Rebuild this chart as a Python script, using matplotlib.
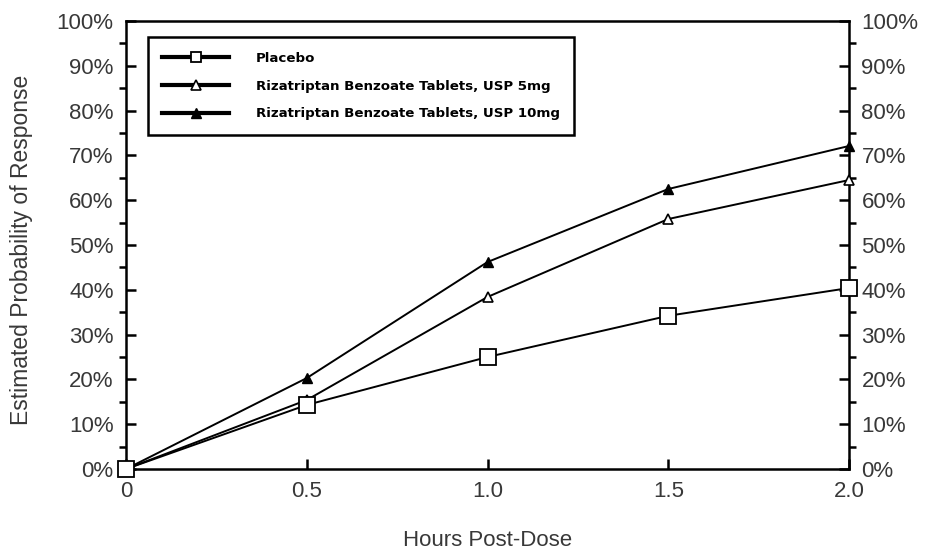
import matplotlib
matplotlib.use("Agg")
from matplotlib import pyplot as plt
from matplotlib.ticker import MultipleLocator, PercentFormatter

plt.rcParams['font.family'] = ['Liberation Sans', 'DejaVu Sans']

# hours post-dose
hours = [0, 0.5, 1.0, 1.5, 2.0]
hour_labels = ["0", "0.5", "1.0", "1.5", "2.0"]

# estimated probability of response (%)
placebo = [0, 14.3, 25.0, 34.2, 40.4]
dose_5mg = [0, 15.4, 38.4, 55.8, 64.5]
dose_10mg = [0, 20.3, 46.2, 62.5, 72.1]

labels = ["Placebo",
          "Rizatriptan Benzoate Tablets, USP 5mg",
          "Rizatriptan Benzoate Tablets, USP 10mg"]

fig = plt.figure(figsize=(9.3, 5.53), dpi=100)
ax = fig.add_axes([0.1355, 0.1519, 0.7774, 0.8101])

ax.plot(hours, dose_10mg, color="black", lw=1.4, marker="^", ms=7,
        mfc="black", mec="black", label=labels[2], zorder=3, clip_on=False)
ax.plot(hours, dose_5mg, color="black", lw=1.4, marker="^", ms=7,
        mfc="white", mec="black", mew=1.2, label=labels[1], zorder=4, clip_on=False)
ax.plot(hours, placebo, color="black", lw=1.4, marker="s", ms=11,
        mfc="white", mec="black", mew=1.3, label=labels[0], zorder=5, clip_on=False)

ax.set_xlim(0, 2.0)
ax.set_ylim(0, 100)
ax.set_xticks(hours)
ax.set_xticklabels(hour_labels)
ax.yaxis.set_major_locator(MultipleLocator(10))
ax.yaxis.set_minor_locator(MultipleLocator(5))
ax.yaxis.set_major_formatter(PercentFormatter(decimals=0))

for side in ax.spines.values():
    side.set_linewidth(1.8)
    side.set_color("black")

ax.tick_params(axis="both", direction="in", labelsize=16, labelcolor="#383838")
ax.tick_params(axis="y", which="major", length=7, width=1.8, right=True, labelright=True, pad=9)
ax.tick_params(axis="y", which="minor", length=5, width=1.8, right=True)
ax.tick_params(axis="x", which="major", length=7, width=1.8, pad=9)

ax.set_xlabel("Hours Post-Dose", fontsize=16, color="#383838", labelpad=20)
ax.set_ylabel("Estimated Probability of Response", fontsize=16.5, color="#383838")
ax.yaxis.set_label_coords(-0.128, 0.49)

handles, lbls = ax.get_legend_handles_labels()
order = [2, 1, 0]
leg = ax.legend([handles[i] for i in order], [lbls[i] for i in order],
                loc="upper left", bbox_to_anchor=(0.030, 0.964), borderaxespad=0,
                fancybox=False, edgecolor="black", framealpha=1,
                handlelength=5.0, handletextpad=2.0, labelspacing=1.11,
                borderpad=1.1,
                prop={"family": "DejaVu Sans", "size": 9.6, "weight": "bold"})
leg.get_frame().set_linewidth(1.8)
for ln in leg.get_lines():
    ln.set_linewidth(3)
    ln.set_markersize(7)

fig.savefig("out.png", dpi=100)
